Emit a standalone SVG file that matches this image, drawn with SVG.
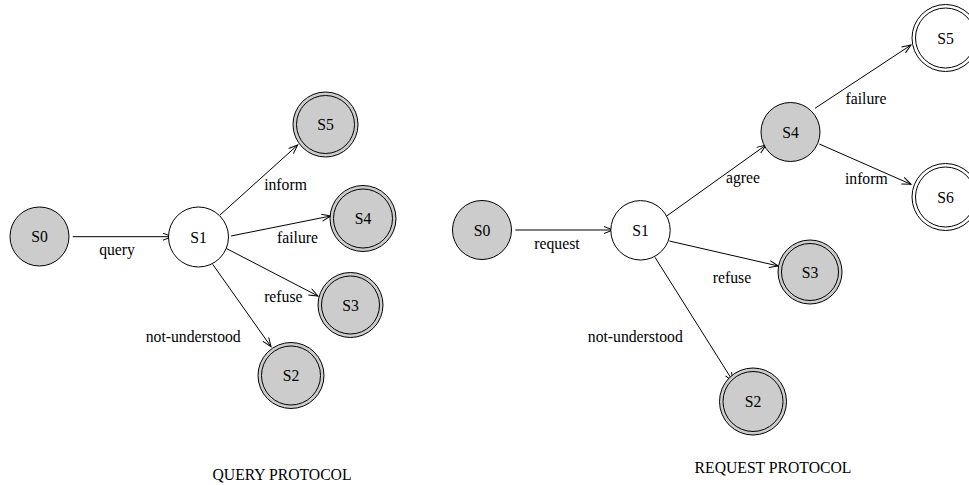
<svg xmlns="http://www.w3.org/2000/svg" width="969" height="485" viewBox="0 0 969 485">
<defs>
<style>
text{font-family:"Liberation Serif","Times New Roman",serif;font-size:15.7px;fill:#000;text-anchor:middle}
.g{fill:#cccccc;stroke:#000;stroke-width:1}
.w{fill:#fff;stroke:#000;stroke-width:1}
.in{fill:none;stroke:#000;stroke-width:1}
.e{stroke:#000;stroke-width:1;fill:none;marker-end:url(#arr)}
</style>
<marker id="arr" markerUnits="userSpaceOnUse" markerWidth="12" markerHeight="10" refX="10" refY="4" orient="auto">
<path d="M1,0.5 L10,4 L1,7.5" fill="none" stroke="#000" stroke-width="1"/>
</marker>
</defs>
<rect width="969" height="485" fill="#fff"/>
<g id="connectors">
<line class="e" x1="72.7" y1="236.7" x2="172" y2="236.7"/>
<line class="e" x1="220" y1="215" x2="297.7" y2="145"/>
<line class="e" x1="231" y1="236" x2="330.7" y2="216"/>
<line class="e" x1="226" y1="248.3" x2="318" y2="296"/>
<line class="e" x1="212.7" y1="264.3" x2="271" y2="346.7"/>
<line class="e" x1="515.3" y1="230" x2="613" y2="230"/>
<line class="e" x1="666.7" y1="216" x2="766" y2="145"/>
<line class="e" x1="669.3" y1="241" x2="778.3" y2="266"/>
<line class="e" x1="655" y1="257.3" x2="733.3" y2="381.7"/>
<line class="e" x1="815" y1="108.3" x2="911" y2="45"/>
<line class="e" x1="819.3" y1="144" x2="911" y2="184.3"/>
</g>
<g id="edge-labels">
<text x="117" y="255">query</text>
<text x="285.5" y="189.5">inform</text>
<text x="297.5" y="242.5">failure</text>
<text x="283.3" y="301.5">refuse</text>
<text x="193.2" y="341.5">not-understood</text>
<text x="557" y="249">request</text>
<text x="743" y="183">agree</text>
<text x="732" y="282.5">refuse</text>
<text x="635.3" y="341.5">not-understood</text>
<text x="866" y="104">failure</text>
<text x="866.3" y="184.3">inform</text>
</g>
<g id="q-S0"><circle class="g" cx="39.5" cy="236.5" r="29.5"/><text x="39.5" y="242">S0</text></g>
<g id="q-S1"><circle class="w" cx="198.5" cy="237" r="30"/><text x="198.5" y="242.5">S1</text></g>
<g id="q-S5"><circle class="g" cx="325.5" cy="124.5" r="32.5"/><circle class="in" cx="325.5" cy="124.5" r="29"/><text x="325.5" y="130">S5</text></g>
<g id="q-S4"><circle class="g" cx="363" cy="218.5" r="33"/><circle class="in" cx="363" cy="218.5" r="29.5"/><text x="363" y="224">S4</text></g>
<g id="q-S3"><circle class="g" cx="350.5" cy="305" r="32.5"/><circle class="in" cx="350.5" cy="305" r="29"/><text x="350.5" y="310.5">S3</text></g>
<g id="q-S2"><circle class="g" cx="291" cy="375.5" r="33"/><circle class="in" cx="291" cy="375.5" r="29.5"/><text x="291" y="381">S2</text></g>
<g id="r-S0"><circle class="g" cx="482" cy="230" r="29.5"/><text x="482" y="235.5">S0</text></g>
<g id="r-S1"><circle class="w" cx="640.5" cy="230.3" r="29.7"/><text x="640.5" y="236">S1</text></g>
<g id="r-S4"><circle class="g" cx="790.5" cy="132" r="29.5"/><text x="790.5" y="137.5">S4</text></g>
<g id="r-S5"><circle class="w" cx="945.5" cy="38" r="33.5"/><circle class="in" cx="945.5" cy="38" r="30"/><text x="945.5" y="43.5">S5</text></g>
<g id="r-S6"><circle class="w" cx="945.5" cy="197" r="33.5"/><circle class="in" cx="945.5" cy="197" r="30"/><text x="945.5" y="202.5">S6</text></g>
<g id="r-S3"><circle class="g" cx="810" cy="272" r="32"/><circle class="in" cx="810" cy="272" r="28.5"/><text x="810" y="277.5">S3</text></g>
<g id="r-S2"><circle class="g" cx="753" cy="401.5" r="33.5"/><circle class="in" cx="753" cy="401.5" r="30"/><text x="753" y="407">S2</text></g>
<g id="titles">
<text x="282" y="480">QUERY PROTOCOL</text>
<text x="773" y="473">REQUEST PROTOCOL</text>
</g>
</svg>
